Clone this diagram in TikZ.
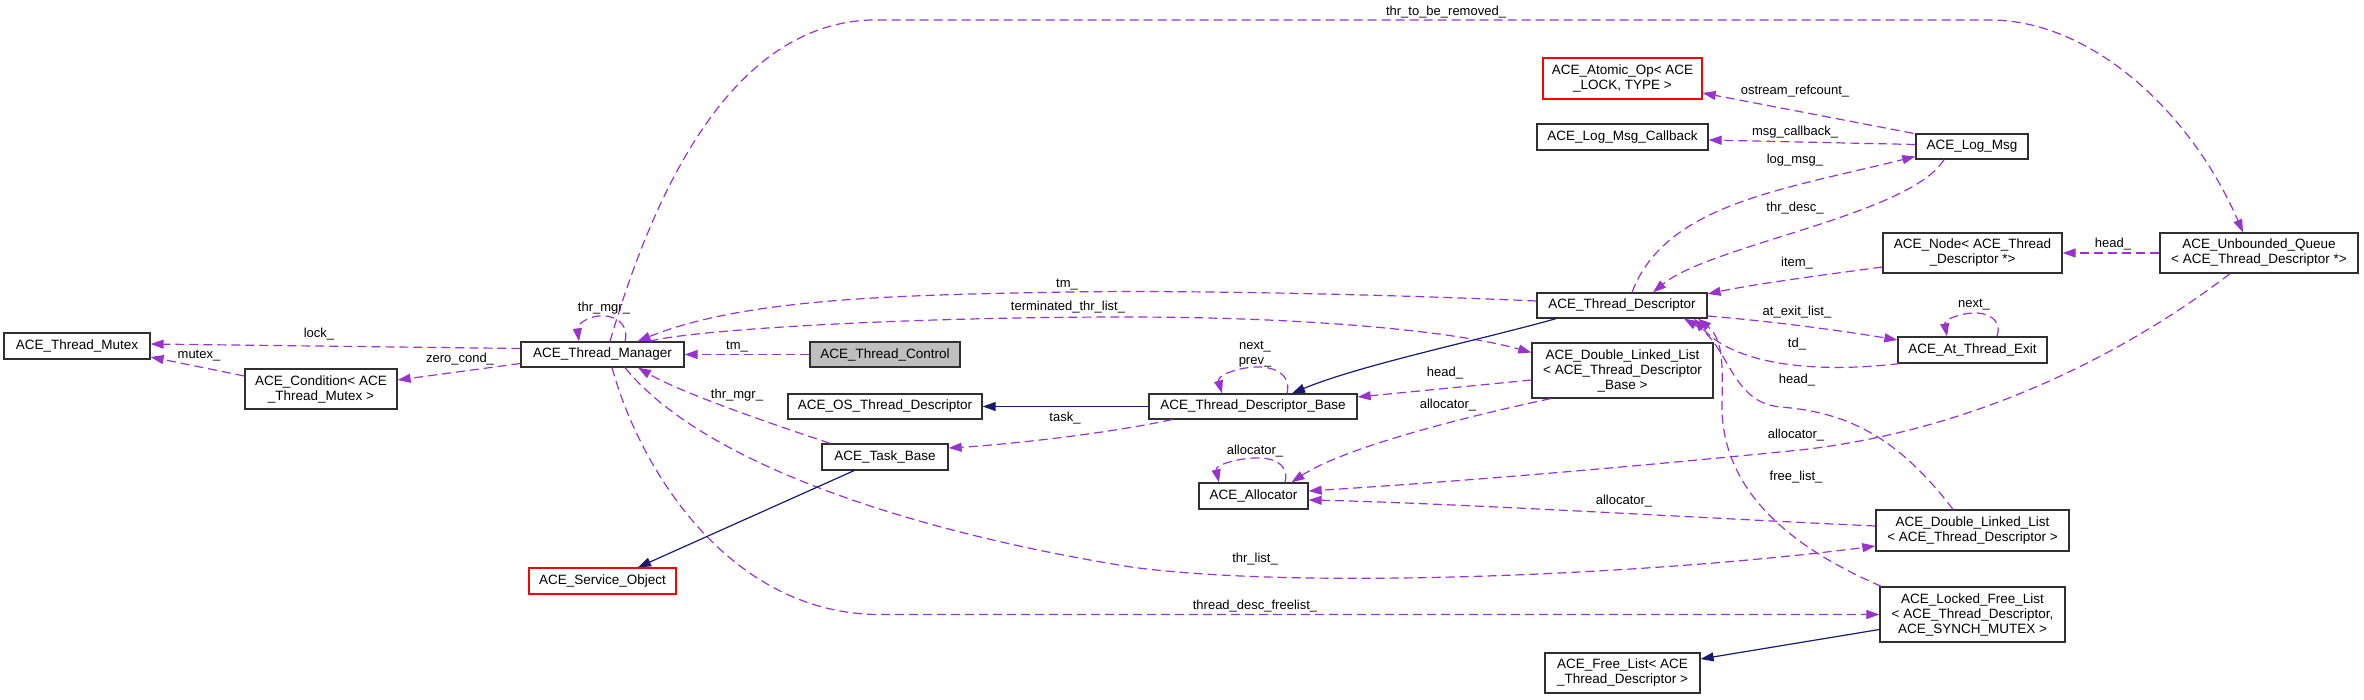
\documentclass[tikz,border=0pt]{standalone}
\usepackage{fontspec}
\setmainfont{Liberation Sans}
\usetikzlibrary{arrows.meta}
\definecolor{depc}{HTML}{9A32CD}
\definecolor{inhc}{HTML}{191970}
\definecolor{bordc}{HTML}{303030}
\definecolor{grayfill}{HTML}{BFBFBF}
\newcommand\dfont{\fontsize{13.5}{15}\selectfont}
\newcommand\lfont{\fontsize{13}{15}\selectfont}
\begin{document}
\begin{tikzpicture}[x=1pt,y=-1pt,
  box/.style={draw=bordc, line width=1.3pt, fill=white, inner sep=0pt, align=center, font=\dfont},
  redbox/.style={box, draw=red},
  graybox/.style={box, fill=grayfill},
  dep/.style={draw=depc, line width=1.2pt, dash pattern=on 9pt off 5pt, -{Triangle[length=13pt,width=9pt,fill=depc]}},
  inh/.style={draw=inhc, line width=1.2pt, -{Triangle[length=13pt,width=9pt,fill=inhc]}},
  lab/.style={font=\lfont, inner sep=0pt, align=center}]
\useasboundingbox (0,0) rectangle (2364,699);
% nodes
\node[box, minimum width=146pt, minimum height=26pt] (tmutex) at (77,346) {ACE\_Thread\_Mutex};
\node[box, minimum width=152pt, minimum height=40pt] (cond) at (321,389) {ACE\_Condition< ACE\\\_Thread\_Mutex >};
\node[box, minimum width=163pt, minimum height=25pt] (tman) at (602.5,354.5) {ACE\_Thread\_Manager};
\node[graybox, minimum width=150pt, minimum height=25pt] (tctrl) at (885,354.5) {ACE\_Thread\_Control};
\node[box, minimum width=194pt, minimum height=25pt] (osd) at (885,406.5) {ACE\_OS\_Thread\_Descriptor};
\node[box, minimum width=208pt, minimum height=25pt] (tdb) at (1253,406.5) {ACE\_Thread\_Descriptor\_Base};
\node[box, minimum width=126pt, minimum height=26pt] (task) at (885,457) {ACE\_Task\_Base};
\node[box, minimum width=109pt, minimum height=26pt] (alloc) at (1253.5,496) {ACE\_Allocator};
\node[redbox, minimum width=147pt, minimum height=26pt] (svc) at (602.5,581) {ACE\_Service\_Object};
\node[redbox, minimum width=159pt, minimum height=41pt] (atomic) at (1622.5,78.5) {ACE\_Atomic\_Op< ACE\\\_LOCK, TYPE >};
\node[box, minimum width=171pt, minimum height=26pt] (lmcb) at (1622.5,137) {ACE\_Log\_Msg\_Callback};
\node[box, minimum width=112pt, minimum height=25pt] (lmsg) at (1972,146.5) {ACE\_Log\_Msg};
\node[box, minimum width=170pt, minimum height=25pt] (td) at (1622,305.5) {ACE\_Thread\_Descriptor};
\node[box, minimum width=179pt, minimum height=40pt] (node) at (1972.5,253) {ACE\_Node< ACE\_Thread\\\_Descriptor *>};
\node[box, minimum width=198pt, minimum height=40pt] (uq) at (2259,253) {ACE\_Unbounded\_Queue\\< ACE\_Thread\_Descriptor *>};
\node[box, minimum width=149pt, minimum height=26pt] (ate) at (1972.5,350) {ACE\_At\_Thread\_Exit};
\node[box, minimum width=181pt, minimum height=55pt] (dllb) at (1622.5,370.5) {ACE\_Double\_Linked\_List\\< ACE\_Thread\_Descriptor\\\_Base >};
\node[box, minimum width=193pt, minimum height=41pt] (dlltd) at (1972.5,530.5) {ACE\_Double\_Linked\_List\\< ACE\_Thread\_Descriptor >};
\node[box, minimum width=185pt, minimum height=55pt] (lfl) at (1972.5,614.5) {ACE\_Locked\_Free\_List\\< ACE\_Thread\_Descriptor,\\ACE\_SYNCH\_MUTEX >};
\node[box, minimum width=155pt, minimum height=40pt] (fl) at (1622.5,673) {ACE\_Free\_List< ACE\\\_Thread\_Descriptor >};
% edges
\draw[dep] ([shift={(0,-6)}]tman.west) -- ([shift={(0,-2)}]tmutex.east);
\draw[dep] ([shift={(0,-13)}]cond.west) -- ([shift={(0,11)}]tmutex.east);
\draw[dep] ([shift={(0,9)}]tman.west) -- ([shift={(0,-9)}]cond.east);
\draw[dep] ([shift={(22.5,0)}]tman.north) .. controls (630,322) and (612,314) .. (598,316) .. controls (584,318) and (577,326) .. ([shift={(-23.5,0)}]tman.north);
\draw[dep] (tctrl.west) -- (tman.east);
\draw[dep] ([shift={(0,-4.5)}]td.west) .. controls (1400,295) and (1200,290) .. (1068,292) .. controls (900,295) and (745,298) .. ([shift={(35,0)}]tman.north);
\draw[dep] ([shift={(47,0)}]tman.north) .. controls (690,330) and (900,317) .. (1126,317) .. controls (1300,317) and (1450,330) .. ([shift={(0,-18)}]dllb.west);
\draw[dep] ([shift={(7.5,0)}]tman.north) .. controls (660,170) and (740,25) .. (870,20) -- (1990,20) .. controls (2090,20) and (2190,110) .. ([shift={(-16,0)}]uq.north);
\draw[dep] ([shift={(9.5,0)}]tman.south) .. controls (640,470) and (730,614.5) .. (880,614.5) -- (lfl.west);
\draw[dep] ([shift={(22.5,0)}]tman.south) .. controls (700,460) and (900,530) .. (1131,567) .. controls (1300,590) and (1650,575) .. ([shift={(0,15.5)}]dlltd.west);
\draw[dep] ([shift={(-55,0)}]task.north) .. controls (760,420) and (680,392) .. ([shift={(35.5,0)}]tman.south);
\draw[inh] ([shift={(-31,0)}]task.south) -- ([shift={(35.5,0)}]svc.north);
\draw[inh] (tdb.west) -- (osd.east);
\draw[dep] ([shift={(-81,0)}]tdb.south) .. controls (1100,435) and (1000,445) .. ([shift={(0,-9)}]task.east);
\draw[dep] ([shift={(34,0)}]tdb.north) .. controls (1292,372) and (1270,366) .. (1255,367) .. controls (1235,368) and (1217,376) .. ([shift={(-31,0)}]tdb.north);
\draw[inh] ([shift={(-66,0)}]td.south) .. controls (1480,340) and (1360,365) .. ([shift={(39,0)}]tdb.north);
\draw[dep] ([shift={(0,9.5)}]dllb.west) -- ([shift={(0,-9.5)}]tdb.east);
\draw[dep] ([shift={(-72,0)}]dllb.south) .. controls (1450,420) and (1340,450) .. ([shift={(38,0)}]alloc.north);
\draw[dep] ([shift={(31.5,0)}]alloc.north) .. controls (1290,462) and (1270,457) .. (1253,458) .. controls (1236,459) and (1215,465) .. ([shift={(-34.5,0)}]alloc.north);
\draw[dep] ([shift={(-29,0)}]uq.south) .. controls (2130,350) and (1980,430) .. (1800,450) .. controls (1600,470) and (1450,482) .. ([shift={(0,-5)}]alloc.east);
\draw[dep] ([shift={(0,-4.5)}]dlltd.west) .. controls (1700,518) and (1450,503) .. ([shift={(0,4)}]alloc.east);
\draw[dep] ([shift={(-19.5,0)}]dlltd.north) .. controls (1900,440) and (1850,412) .. (1780,407) .. controls (1730,402) and (1730,345) .. ([shift={(62,0)}]td.south);
\draw[dep] ([shift={(2,0)}]ate.south west) .. controls (1800,375) and (1730,360) .. ([shift={(72,0)}]td.south);
\draw[dep] ([shift={(0,10.5)}]td.east) .. controls (1780,322) and (1850,332) .. ([shift={(0,-10)}]ate.west);
\draw[dep] ([shift={(24.5,0)}]ate.north) .. controls (2003,318) and (1985,312) .. (1972,313) .. controls (1958,314) and (1944,320) .. ([shift={(-25.5,0)}]ate.north);
\draw[dep] ([shift={(0,14)}]node.west) .. controls (1800,278) and (1750,285) .. ([shift={(0,-11.5)}]td.east);
\draw[dep] (uq.west) -- (node.east);
\draw[dep] ([shift={(10,0)}]td.north) .. controls (1665,205) and (1780,190) .. ([shift={(0,10)}]lmsg.west);
\draw[dep] ([shift={(-28,0)}]lmsg.south) .. controls (1910,215) and (1710,245) .. ([shift={(31,0)}]td.north);
\draw[dep] ([shift={(0,-2)}]lmsg.west) -- ([shift={(0,3)}]lmcb.east);
\draw[dep] ([shift={(-2,0)}]lmsg.north west) -- ([shift={(0,14.5)}]atomic.east);
\draw[inh] ([shift={(0,15)}]lfl.west) -- ([shift={(0,-14)}]fl.east);
\draw[dep] ([shift={(2,0)}]lfl.north west) .. controls (1750,530) and (1720,460) .. (1722,400) .. controls (1723,360) and (1722,338) .. ([shift={(76,0)}]td.south);
% labels
\node[lab] (l1) at (319,334) {lock\_};
\node[lab] (l2) at (199,356) {mutex\_};
\node[lab] (l3) at (460,359) {zero\_cond\_};
\node[lab] (l4) at (604,308) {thr\_mgr\_};
\node[lab] (l5) at (737,347) {tm\_};
\node[lab] (l6) at (1067,285) {tm\_};
\node[lab] (l7) at (1068,307) {terminated\_thr\_list\_};
\node[lab] (l8) at (1446,12) {thr\_to\_be\_removed\_};
\node[lab] (l9) at (1255,606) {thread\_desc\_freelist\_};
\node[lab] (l10) at (1255,559) {thr\_list\_};
\node[lab] (l11) at (737,395) {thr\_mgr\_};
\node[lab] (l12) at (1065,418) {task\_};
\node[lab] (l13) at (1255,354) {next\_\\prev\_};
\node[lab] (l14) at (1445,373) {head\_};
\node[lab] (l15) at (1448,405) {allocator\_};
\node[lab] (l16) at (1255,451) {allocator\_};
\node[lab] (l17) at (1796,435) {allocator\_};
\node[lab] (l18) at (1624,501) {allocator\_};
\node[lab] (l19) at (1797,380) {head\_};
\node[lab] (l20) at (1797,344) {td\_};
\node[lab] (l21) at (1797,312) {at\_exit\_list\_};
\node[lab] (l22) at (1974,305) {next\_};
\node[lab] (l23) at (1797,263) {item\_};
\node[lab] (l24) at (2113,244) {head\_};
\node[lab] (l25) at (1795,160) {log\_msg\_};
\node[lab] (l26) at (1795,208) {thr\_desc\_};
\node[lab] (l27) at (1795,132) {msg\_callback\_};
\node[lab] (l28) at (1795,91) {ostream\_refcount\_};
\node[lab] (l29) at (1796,477) {free\_list\_};
\end{tikzpicture}
\end{document}
